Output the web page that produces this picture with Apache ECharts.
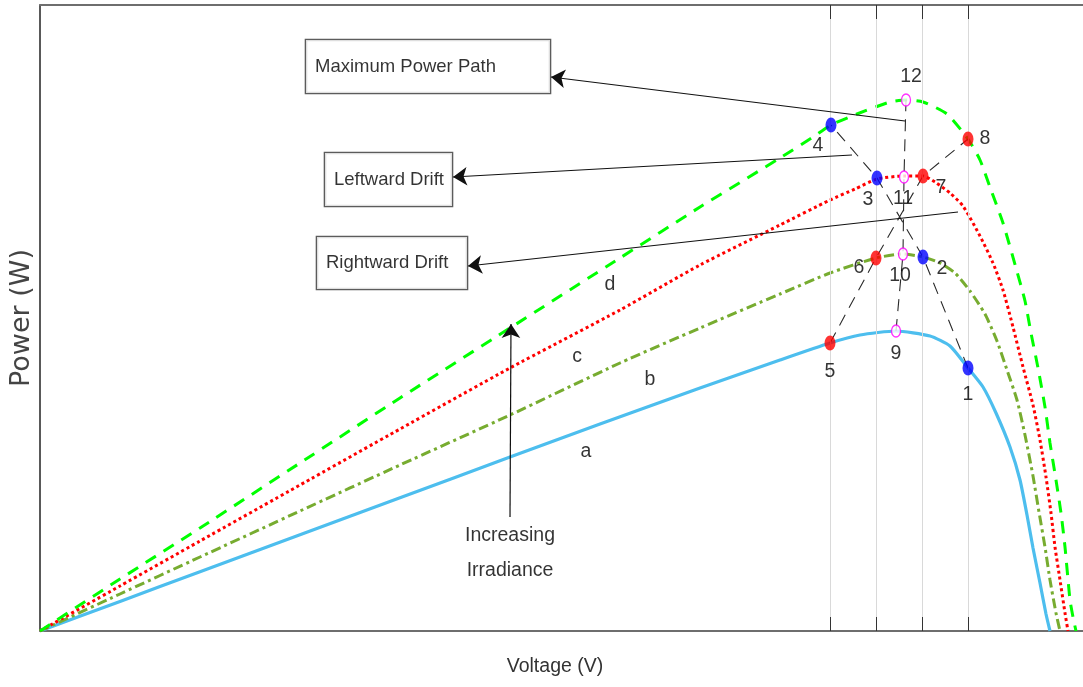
<!DOCTYPE html>
<html><head><meta charset="utf-8">
<script src="https://cdn.jsdelivr.net/npm/echarts@6/dist/echarts.min.js"></script>
<style>html,body{margin:0;padding:0;background:#fff}#c{width:1083px;height:687px}</style>
</head><body><div id="c"></div>
<script>
// ---------------- DATA ----------------
const curveA = [[0,0],[3.2,5.92],[6.4,11.84],[10.4,19.24],[14.4,26.64],[18.8,34.8],[22.4,41.4],[26.4,48.6],[29.6,54.2],[31.6,57.6],[32.8,59.2],[34.24,60.0],[35.6,59.0],[36.4,57.0],[37.12,52.6],[37.72,48.8],[38.24,43.6],[38.8,36.8],[39.2,30.2],[39.48,23.2],[39.72,16.6],[40.0,9.6],[40.24,3.4],[40.4,0]];
const curveB = [[0,0],[3.2,7.4],[6.4,14.8],[10.4,24.0],[14.4,33.2],[18.8,43.2],[23.2,53.6],[26.4,60.6],[29.6,67.4],[31.6,71.6],[33.44,74.6],[34.52,75.4],[35.32,74.8],[36.0,73.6],[36.6,71.6],[37.2,68.0],[37.8,63.4],[38.28,58.0],[38.68,52.2],[39.08,46.2],[39.4,39.2],[39.72,31.0],[39.96,23.8],[40.2,16.8],[40.4,10.2],[40.64,3.6],[40.8,0]];
const curveC = [[0,0],[3.2,9.0],[6.4,18.0],[10.4,29.2],[14.4,40.4],[18.8,52.6],[23.2,64.2],[26.4,73.2],[29.6,81.2],[31.6,86.2],[32.6,88.4],[33.48,90.4],[34.56,91.0],[35.32,91.0],[35.8,89.8],[36.4,87.6],[36.92,85.0],[37.6,79.0],[38.12,73.6],[38.52,68.2],[38.92,60.8],[39.32,52.8],[39.72,45.2],[40.0,38.2],[40.24,30.8],[40.44,23.6],[40.6,16.8],[40.8,10.2],[41.0,3.6],[41.12,0]];
const curveD = [[0,0],[3.2,10.4],[6.4,20.6],[10.4,33.6],[14.4,46.6],[18.8,60.6],[23.2,74.6],[26.4,84.8],[29.6,94.6],[30.92,98.8],[31.64,101.2],[32.68,103.4],[34.0,105.8],[34.64,106.2],[35.32,105.8],[36.28,103.4],[37.12,98.4],[37.6,94.2],[38.04,88.2],[38.52,81.6],[39.04,72.6],[39.4,66.0],[39.64,59.6],[39.92,52.6],[40.2,44.8],[40.4,37.6],[40.64,30.2],[40.84,23.6],[41.0,16.8],[41.2,6.2],[41.32,2.8],[41.44,0]];
const curveNames = ['a','b','c','d'];
const curveNamePos = [[21.84,35.8],[24.4,50.2],[21.48,54.8],[22.8,69.2]];

const leftwardPts  = [[37.12,52.6],[35.32,74.8],[33.48,90.6],[31.64,101.2]];
const leftwardIds  = ['1','2','3','4'];
const rightwardPts = [[31.6,57.6],[33.44,74.6],[35.32,91.0],[37.12,98.4]];
const rightwardIds = ['5','6','7','8'];
const mppPts = [[34.24,60.0],[34.52,75.4],[34.56,90.8],[34.64,106.2]];
const mppIds = ['9','10','11','12'];

const gridVoltages = [31.6, 33.44, 35.28, 37.12];
const powerMax = 125.2;
const voltageMax = 41.72;

const boxTexts   = ['Maximum Power Path','Leftward Drift','Rightward Drift'];
const boxAnchors = [[10.64,112.9],[11.4,90.3],[11.08,73.6]];
const arrowPaths = [
  [[34.6,102.0],[20.44,110.8]],
  [[32.48,95.2],[16.52,90.8]],
  [[36.72,83.8],[17.12,73.0]],
  [[18.8,22.8],[18.84,61.4]]
];
const irradianceText = 'Increasing\nIrradiance';
const irradianceAnchor = [18.8,15.6];

// ---------------- STYLE ----------------
const boxSizes = [[244,53],[127,53],[150,52]];
const tickLen = 2.8; // in power units (~14 px)
const labelOffsets = {'1':[0,27],'2':[19,12],'3':[-9,22],'4':[-13,21],'5':[0,29],'6':[-17,10],'7':[18,12],'8':[17,0],'9':[0,23],'10':[-3,22],'11':[-1,22],'12':[5,-23]};

function hasFont(name){
  const ctx=document.createElement('canvas').getContext('2d');
  const s='Maximum Power Path 0123';
  ctx.font='40px monospace'; const a=ctx.measureText(s).width;
  ctx.font="40px '"+name+"', monospace"; const b=ctx.measureText(s).width;
  return Math.abs(a-b)>0.5;
}
const narrow = hasFont('Liberation Sans Narrow');
const F = narrow ? "'Liberation Sans Narrow', 'Liberation Sans', sans-serif" : "'Liberation Sans', Arial, sans-serif";
const FS = narrow ? 22 : 18.5;

const chart = echarts.init(document.getElementById('c'), null, {renderer:'canvas'});

function curve(data, color, type, width){
  return {type:'line', data, showSymbol:false, smooth:0.2, z:3,
    lineStyle:{color, width, type, cap:'butt'}, silent:true, animation:false};
}
function pathSeries(data){
  return {type:'line', data, showSymbol:false, smooth:false, z:4,
    lineStyle:{color:'#2a2a2a', width:1.1, type:[12,8]}, silent:true, animation:false};
}
function markerSeries(pts, ids, color, hollow){
  return {type:'scatter', z:8, animation:false, silent:true,
    symbol:'circle', symbolSize: hollow?[9,12]:[11,15],
    itemStyle: hollow?{color:'#fff', borderColor:'#ff00ff', borderWidth:1.5}:{color},
    data: pts.map((p,i)=>({value:p, name:ids[i], label:{offset:labelOffsets[ids[i]]}})),
    label:{show:true, position:'inside', formatter:'{b}', color:'#000', fontFamily:F, fontSize:FS+1}
  };
}

const tickSegments = [];
gridVoltages.forEach(v=>{
  tickSegments.push([{coord:[v,0]},{coord:[v,tickLen]}]);
  tickSegments.push([{coord:[v,powerMax]},{coord:[v,powerMax-tickLen]}]);
});

const option = {
  animation:false,
  backgroundColor:'#fff',
  grid:{left:40, right:0, top:5, bottom:56},
  xAxis:[{
    type:'value', min:0, max:voltageMax, position:'bottom',
    name:'Voltage (V)', nameLocation:'middle', nameGap:26,
    nameTextStyle:{fontFamily:F, fontSize:FS+1, color:'#333', padding:[0,13,0,0]},
    axisLine:{show:true, onZero:false, lineStyle:{color:'#6e6e6e', width:2}},
    axisTick:{show:false}, axisLabel:{show:false}, splitLine:{show:false}
  },{
    type:'value', min:0, max:voltageMax, position:'top',
    axisLine:{show:true, onZero:false, lineStyle:{color:'#6e6e6e', width:2}},
    axisTick:{show:false}, axisLabel:{show:false}, splitLine:{show:false}
  }],
  yAxis:{
    type:'value', min:0, max:powerMax,
    name:'Power (W)', nameLocation:'middle', nameGap:5,
    nameTextStyle:{fontFamily:'DejaVu Sans', fontSize:27, color:'#444'},
    axisLine:{show:true, onZero:false, lineStyle:{color:'#222', width:1.5}},
    axisTick:{show:false}, axisLabel:{show:false}, splitLine:{show:false}
  },
  series:[
    {type:'line', data:[[0,0]], z:1, showSymbol:false, lineStyle:{opacity:0}, silent:true,
      markLine:{silent:true, symbol:['none','none'], label:{show:false}, animation:false,
        lineStyle:{color:'#d9d9d9', type:'solid', width:1},
        data: gridVoltages.map(v=>({xAxis:v}))}},
    {type:'line', data:[[0,0]], z:2, showSymbol:false, lineStyle:{opacity:0}, silent:true,
      markLine:{silent:true, symbol:['none','none'], label:{show:false}, animation:false,
        lineStyle:{color:'#333', type:'solid', width:1},
        data: tickSegments}},
    curve(curveA, '#4DBEEE', 'solid', 3.2),
    curve(curveB, '#77AC30', [10,4,3,4], 3),
    curve(curveC, '#FF0000', [3,3], 3),
    curve(curveD, '#00FF00', [12,9], 3),
    pathSeries(leftwardPts),
    pathSeries(rightwardPts),
    pathSeries(mppPts),
    {type:'lines', coordinateSystem:'cartesian2d', z:6, silent:true, animation:false,
      symbol:['none','arrow'], symbolSize:14,
      lineStyle:{color:'#111', width:1.2, opacity:1, curveness:0},
      data: arrowPaths.map(p=>({coords:p}))},
    markerSeries(leftwardPts, leftwardIds, '#0000FF', false),
    markerSeries(rightwardPts, rightwardIds, '#FF0000', false),
    markerSeries(mppPts, mppIds, '#ff00ff', true),
    {type:'scatter', z:9, silent:true, symbolSize:0, animation:false,
      data: curveNamePos.map((p,i)=>({value:p, name:curveNames[i]})),
      label:{show:true, position:'inside', formatter:'{b}', color:'#000', fontFamily:F, fontSize:FS+1}},
    {type:'scatter', z:9, silent:true, symbolSize:0, animation:false,
      data:[{value:irradianceAnchor, name:irradianceText}],
      label:{show:true, position:'inside', formatter:'{b}', color:'#000', fontFamily:F, fontSize:FS+1, lineHeight:35, align:'center'}},
    {type:'scatter', z:10, silent:true, symbolSize:0, animation:false,
      data: boxTexts.map((t,i)=>({value:boxAnchors[i], name:t,
        label:{width:boxSizes[i][0]-9, lineHeight:boxSizes[i][1]}})),
      label:{show:true, position:'right', distance:0, formatter:'{b}', color:'#000',
        fontFamily:F, fontSize:FS, backgroundColor:'#fff', borderColor:'#333', borderWidth:1.3,
        padding:[0,0,0,9], align:'left', verticalAlign:'middle'}}
  ]
};
chart.setOption(option);
</script></body></html>
